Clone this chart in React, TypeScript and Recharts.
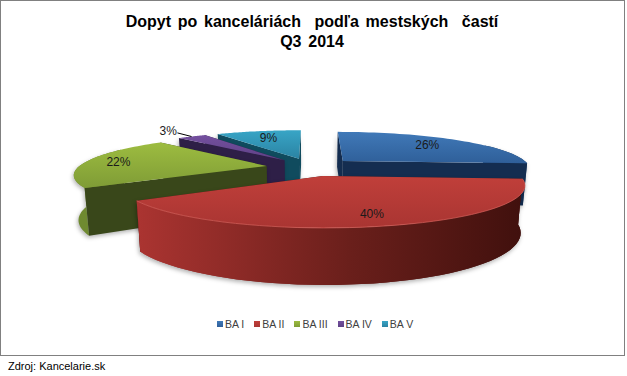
import React from "react";
import { Legend, Pie, PieChart } from "recharts";

const CATEGORIES = ["BA I", "BA II", "BA III", "BA IV", "BA V"];
const VALUES = [26, 40, 22, 3, 9];

// painter's order for the fake 3D: back slices first
const PAINT_ORDER = ["BA V", "BA IV", "BA I", "BA III", "BA II"];

const TOP_LIGHT = ["#4079b8", "#c03f3a", "#9dbc40", "#74509f", "#38a5c6"];
const TOP_DARK = ["#2f5f99", "#a93532", "#7f9c36", "#5f4186", "#2b83a3"];
const WALL_LEFT = ["#17365f", "#ab3431", "#6f8a30", "#36244f", "#2a7f9b"];
const WALL_RIGHT = ["#1c4474", "#40100d", "#4d6024", "#36244f", "#3590ad"];
const RIM = ["#5f93cf", "#d9625c", "#b5d15a", "#8a68b5", "#5cc0dc"];
const FACE = ["#142d50", "#4a1512", "#39471a", "#2e1f47", "#104b5e"];
const LABEL_AT = [0.72, 0.8, 0.82, 1.3, 0.72];

const W = 627;
const H = 376;
const EXPLODE = 0.24;
const PERSPECTIVE = 0.2;
const FLATTEN = 0.198;
const DEPTH = 43;
const BOTTOM_SHRINK = 0.98;

const tableData = CATEGORIES.map((name, i) => ({ name, value: VALUES[i] }));

function project(cx: number, cy: number, r: number, px: number, py: number) {
  const s = 1 / (1 - PERSPECTIVE * py);
  return { x: cx + r * px * s, y: cy + r * FLATTEN * py * s, s };
}

// pie angles are counter clockwise from 3 o'clock, this goes to disc coordinates
function discPoint(angle: number, f: number, ex: number, ey: number) {
  const a = (angle * Math.PI) / 180;
  return { px: ex + f * Math.cos(a), py: ey - f * Math.sin(a) };
}

const toLine = (pts: { x: number; y: number }[]) =>
  pts.map((p, i) => `${i ? "L" : "M"}${p.x.toFixed(1)} ${p.y.toFixed(1)}`).join(" ");
const toPath = (pts: { x: number; y: number }[]) => toLine(pts) + " Z";

function Slice3D(props: any) {
  const { cx, cy, outerRadius: r, startAngle, endAngle, name, only } = props;
  if (name !== only) return null;
  const i = CATEGORIES.indexOf(name);
  const mid = (startAngle + endAngle) / 2;
  const m = (mid * Math.PI) / 180;
  const ex = EXPLODE * Math.cos(m);
  const ey = -EXPLODE * Math.sin(m);

  const at = (angle: number, f: number) => {
    const d = discPoint(angle, f, ex, ey);
    return project(cx, cy, r, d.px, d.py);
  };
  const down = (p: { x: number; y: number; s: number }) => ({
    x: cx + (p.x - cx) * BOTTOM_SHRINK,
    y: p.y + DEPTH * p.s,
    s: p.s,
  });

  const steps = 48;
  const arc = [];
  const frontArc = [];
  for (let k = 0; k <= steps; k++) {
    const angle = startAngle + ((endAngle - startAngle) * k) / steps;
    const p = at(angle, 1);
    arc.push(p);
    // the back of the rim is hidden by the top of the slice
    if (Math.sin((angle * Math.PI) / 180) < 0.5) frontArc.push(p);
  }
  const apex = at(mid, 0);
  const first = arc[0];
  const last = arc[steps];
  const faceStart = [apex, first, down(first), down(apex)];
  const faceEnd = [apex, last, down(last), down(apex)];
  const faces = first.y > last.y ? [faceEnd, faceStart] : [faceStart, faceEnd];
  const wall = [...frontArc, ...frontArc.slice().reverse().map(down)];
  const label = at(mid, LABEL_AT[i]);
  const isSmall = VALUES[i] < 5;

  return (
    <g>
      <defs>
        <linearGradient id={`top${i}`} x1="0" y1="0" x2="0" y2="1">
          <stop offset="0" stopColor={TOP_LIGHT[i]} />
          <stop offset="1" stopColor={TOP_DARK[i]} />
        </linearGradient>
        <linearGradient id={`wall${i}`} x1="0" y1="0" x2="1" y2="0">
          <stop offset="0" stopColor={WALL_LEFT[i]} />
          <stop offset="0.55" stopColor={i === 1 ? "#6a1f1b" : WALL_LEFT[i]} />
          <stop offset="1" stopColor={WALL_RIGHT[i]} />
        </linearGradient>
      </defs>
      <g style={{ filter: "drop-shadow(-1px 2px 2px rgba(0,0,0,0.3))" }}>
        {frontArc.length > 1 && <path d={toPath(wall)} fill={`url(#wall${i})`} />}
        {faces.map((f, k) => (
          <path key={k} d={toPath(f)} fill={FACE[i]} />
        ))}
        {i === 1 && <path d={toPath(wall)} fill={`url(#wall${i})`} />}
      </g>
      <path d={toPath([apex, ...arc])} fill={`url(#top${i})`} />
      {i === 1 && <path d={toLine(frontArc)} fill="none" stroke={RIM[i]} strokeWidth={1} strokeOpacity={0.7} />}
      <text
        x={label.x}
        y={label.y}
        textAnchor="middle"
        dominantBaseline="central"
        fontFamily="Liberation Sans"
        fontSize={12}
        fill="#1a1a1a"
      >
        {VALUES[i]}%
      </text>
      {isSmall && <path d={toLine([at(mid, 1.18), at(mid, 1.0)])} stroke="#000" strokeWidth={1} fill="none" />}
    </g>
  );
}

function LegendRow() {
  return (
    <div style={{ display: "flex", fontFamily: "Liberation Sans", fontSize: 10.5, color: "#404040" }}>
      {CATEGORIES.map((c, i) => (
        <div key={c} style={{ display: "flex", alignItems: "center", marginRight: 10 }}>
          <span
            style={{
              width: 6,
              height: 6,
              marginRight: 2,
              background: `linear-gradient(${TOP_LIGHT[i]}, ${TOP_DARK[i]})`,
            }}
          />
          {c}
        </div>
      ))}
    </div>
  );
}

export default function App() {
  return (
    <div style={{ position: "absolute", left: 0, top: 0, width: W, height: H, background: "#fff" }}>
      <div
        style={{
          position: "absolute",
          left: 0,
          top: 0,
          width: 623,
          height: 354,
          border: "1px solid #808080",
        }}
      />
      <div
        style={{
          position: "absolute",
          left: 0,
          top: 12,
          width: 624,
          textAlign: "center",
          fontFamily: "Liberation Sans",
          fontWeight: "bold",
          fontSize: 16,
          lineHeight: "20px",
          whiteSpace: "pre",
          wordSpacing: 2.3,
          color: "#000",
        }}
      >
        {"Dopyt po kanceláriách  podľa mestských  častí\nQ3 2014"}
      </div>
      <div style={{ position: "absolute", left: 0, top: 0 }}>
        <PieChart width={W} height={H} margin={{ top: 0, right: 0, bottom: 0, left: 0 }}>
          {PAINT_ORDER.map((only) => (
            <Pie
              key={only}
              data={tableData}
              dataKey="value"
              nameKey="name"
              cx={311}
              cy={167}
              innerRadius={0}
              outerRadius={188}
              startAngle={90}
              endAngle={-270}
              paddingAngle={0}
              stroke="none"
              legendType="none"
              isAnimationActive={false}
              shape={(p: any) => <Slice3D {...p} only={only} />}
            />
          ))}
          <Legend
            content={<LegendRow />}
            wrapperStyle={{ position: "absolute", left: 217, top: 318, width: 240, height: 14, bottom: "auto" }}
          />
        </PieChart>
      </div>
      <div
        style={{
          position: "absolute",
          left: 8,
          top: 360,
          fontFamily: "Liberation Sans",
          fontSize: 11,
          color: "#000",
        }}
      >
        Zdroj: Kancelarie.sk
      </div>
    </div>
  );
}
